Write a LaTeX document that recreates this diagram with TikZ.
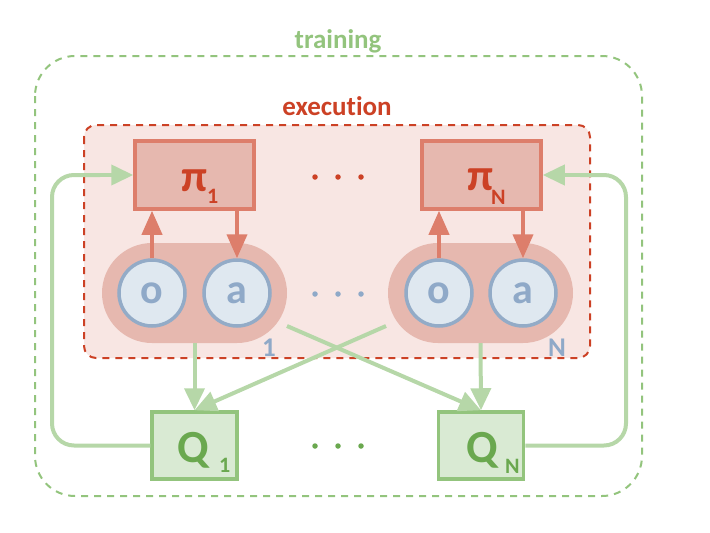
\documentclass[tikz,border=0pt]{standalone}
\usepackage{fontspec}
\setmainfont[Ligatures=NoCommon]{Carlito}
\usetikzlibrary{arrows.meta}
\definecolor{trgreen}{HTML}{93C47D}
\definecolor{exred}{HTML}{CC4125}
\definecolor{exfill}{HTML}{F8E6E3}
\definecolor{pifill}{HTML}{E6B8AF}
\definecolor{piborder}{HTML}{DD7E6B}
\definecolor{cfill}{HTML}{DFE8F0}
\definecolor{cborder}{HTML}{93ABC7}
\definecolor{ctext}{HTML}{8FA9C8}
\definecolor{qfill}{HTML}{D9EAD3}
\definecolor{qtext}{HTML}{6AA84F}
\definecolor{arrgreen}{HTML}{B6D7A8}
\tikzset{
  pibox/.style={draw=piborder, fill=pifill, line width=3.5pt, minimum width=119pt, minimum height=68pt, inner sep=0pt},
  qbox/.style={draw=trgreen, fill=qfill, line width=3.5pt, minimum width=85pt, minimum height=67pt, inner sep=0pt},
  pill/.style={fill=pifill, rounded corners=50pt, minimum width=185pt, minimum height=100pt, inner sep=0pt},
  obs/.style={circle, draw=cborder, fill=cfill, line width=3.5pt, minimum size=66pt, inner sep=0pt, text=ctext, font=\bfseries\fontsize{42}{42}\selectfont},
  pitext/.style={text=exred, font=\bfseries\fontsize{45}{45}\selectfont, inner sep=0pt},
  pisub/.style={text=exred, font=\bfseries\fontsize{22}{22}\selectfont, inner sep=0pt},
  qtxt/.style={text=qtext, font=\bfseries\fontsize{46}{46}\selectfont, inner sep=0pt},
  qsub/.style={text=qtext, font=\bfseries\fontsize{22}{22}\selectfont, inner sep=0pt},
  redarr/.style={draw=piborder, line width=4pt, -{Triangle[length=24pt,width=20pt]}},
  grarr/.style={draw=arrgreen, line width=4pt, -{Triangle[length=22pt,width=20pt]}},
  grline/.style={draw=arrgreen, line width=4pt, rounded corners=22pt},
  dotred/.style={circle, fill=exred, minimum size=5.5pt, inner sep=0pt},
  dotblue/.style={circle, fill=ctext, minimum size=5.5pt, inner sep=0pt},
  dotgreen/.style={circle, fill=qtext, minimum size=5.5pt, inner sep=0pt},
  agentlbl/.style={text=ctext, font=\bfseries\fontsize{27}{27}\selectfont, inner sep=0pt},
}
\begin{document}
\begin{tikzpicture}[x=1pt,y=-1pt]
\useasboundingbox (0,0) rectangle (710,533);
% training box
\draw[trgreen, line width=2pt, dash pattern=on 7pt off 6pt, rounded corners=40pt] (35,56) rectangle (642,496);
\node[text=trgreen, font=\bfseries\fontsize{27}{27}\selectfont, anchor=base, inner sep=0pt] (trlbl) at (338,48) {training};
% execution box
\draw[exred, fill=exfill, line width=2pt, dash pattern=on 7pt off 6pt, rounded corners=12pt] (84,125) rectangle (590,358);
\node[text=exred, font=\bfseries\fontsize{27}{27}\selectfont, anchor=base, inner sep=0pt] (exlbl) at (337,115) {execution};
% policies
\node[pibox] (pi1) at (194.5,175) {};
\node[pibox] (piN) at (481.5,175) {};
\node[pitext, anchor=base] (pi1t) at (195,191) {π};
\node[pisub, anchor=base west] (pi1s) at (207,203) {1};
\node[pitext, anchor=base] (piNt) at (480.5,190) {π};
\node[pisub, anchor=base west] (piNs) at (491,204) {N};
% pills
\node[pill] (p1) at (194.5,293) {};
\node[pill] (pN) at (480.5,293) {};
\node[obs] (o1) at (152,293) {o};
\node[obs] (a1) at (237,293) {a};
\node[obs] (oN) at (439,293) {o};
\node[obs] (aN) at (523,293) {a};
\node[agentlbl] (l1) at (269,348) {1};
\node[agentlbl] (lN) at (557,348) {N};
% policy arrows
\draw[redarr] (o1.north) -- (o1.north |- pi1.south);
\draw[redarr] (a1.north |- pi1.south) -- (a1.north);
\draw[redarr] (oN.north) -- (oN.north |- piN.south);
\draw[redarr] (aN.north |- piN.south) -- (aN.north);
% critics
\node[qbox] (q1) at (194.5,445.5) {};
\node[qbox] (qN) at (481,445.5) {};
\node[qtxt, anchor=base] (q1t) at (193.5,462) {Q};
\node[qsub, anchor=base west] (q1s) at (219,472) {1};
\node[qtxt, anchor=base] (qNt) at (482.5,462) {Q};
\node[qsub, anchor=base west] (qNs) at (505,473) {N};
% dots
\foreach \i in {0,1,2} {
  \node[dotred] (dr\i) at (315+23*\i,177) {};
  \node[dotblue] (db\i) at (315+23*\i,294) {};
  \node[dotgreen] (dg\i) at (315+23*\i,446) {};
}
% green arrows
\coordinate (c1) at (287,326);
\coordinate (cN) at (386,326);
\draw[grarr] (p1.south) -- (q1.north);
\draw[grarr] (pN.south) -- (qN.north);
\draw[grarr] (c1) -- (qN.north);
\draw[grarr] (cN) -- (q1.north);
\draw[grline] (q1.west) -- (52,445.5) -- (52,175) -- (100,175);
\draw[grarr] (100,175) -- (pi1.west);
\draw[grline] (qN.east) -- (626,445.5) -- (626,175) -- (580,175);
\draw[grarr] (580,175) -- (piN.east);
\end{tikzpicture}
\end{document}
